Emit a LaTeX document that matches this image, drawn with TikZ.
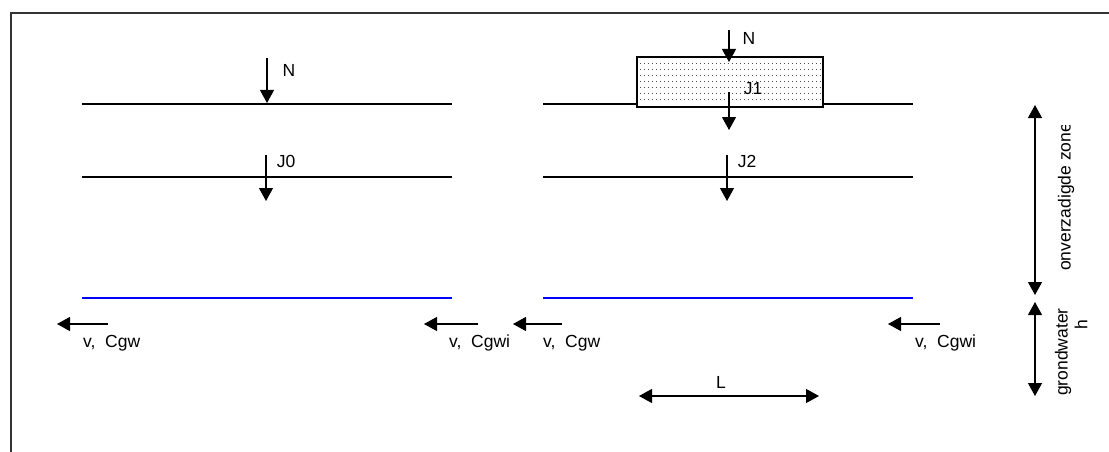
\documentclass[tikz,border=0pt]{standalone}
\usepackage{fontspec}
\setmainfont{Liberation Sans}
\usetikzlibrary{arrows.meta}
\tikzset{
  lbl/.style={inner sep=0pt, font=\fontsize{17.5}{20}\selectfont},
  ground/.style={line width=1.2pt},
  water/.style={line width=1.2pt, blue},
  flow/.style={line width=1.2pt, -{Triangle[length=13pt,width=14pt]}},
  dbl/.style={line width=1.2pt, {Triangle[length=13pt,width=14pt]}-{Triangle[length=13pt,width=14pt]}},
  frame/.style={line width=1.6pt, black!80}
}
\begin{document}
\begin{tikzpicture}[x=1pt,y=-1pt]
\useasboundingbox (0,0) rectangle (1109,452);
% frame
\coordinate (fl) at (11,452);
\coordinate (fc) at (11,13);
\coordinate (fr) at (1109,13);
\draw[frame] (fl) -- (fc) -- (fr);

% ---------- left panel ----------
\coordinate (a1) at (82,104); \coordinate (a2) at (452,104);
\coordinate (b1) at (82,177); \coordinate (b2) at (452,177);
\coordinate (c1) at (82,298); \coordinate (c2) at (452,298);
\draw[ground] (a1) -- (a2);
\draw[ground] (b1) -- (b2);
\draw[water] (c1) -- (c2);
\coordinate (nLs) at (267,58); \coordinate (nLe) at (267,103);
\draw[flow] (nLs) -- (nLe);
\node[lbl] (nL) at (289,70) {N};
\coordinate (j0s) at (266,155); \coordinate (j0e) at (266,201);
\draw[flow] (j0s) -- (j0e);
\node[lbl] (j0) at (286,161) {J0};

% ---------- right panel ----------
\coordinate (d1) at (543,104); \coordinate (d2) at (637,104);
\coordinate (d3) at (823,104); \coordinate (d4) at (913,104);
\draw[ground] (d1) -- (d2);
\draw[ground] (d3) -- (d4);
% dotted box
\foreach \yy in {63,69,...,101} {
  \draw[line width=0.7pt, black!70, dash pattern=on 1.2pt off 2.8pt] (640,\yy) -- (821,\yy);
}
\node[draw, line width=1.2pt, minimum width=186pt, minimum height=50pt, inner sep=0pt] (box) at (730,82) {};
\coordinate (nRs) at (729,30); \coordinate (nRe) at (729,62);
\draw[flow] (nRs) -- (nRe);
\node[lbl] (nR) at (749,38) {N};
\coordinate (j1s) at (729,92); \coordinate (j1e) at (729,130);
\draw[flow] (j1s) -- (j1e);
\node[lbl] (j1) at (753,89) {J1};
\coordinate (e1) at (543,177); \coordinate (e2) at (913,177);
\draw[ground] (e1) -- (e2);
\coordinate (j2s) at (727,155); \coordinate (j2e) at (727,201);
\draw[flow] (j2s) -- (j2e);
\node[lbl] (j2) at (747,161) {J2};
\coordinate (f1) at (543,298); \coordinate (f2) at (913,298);
\draw[water] (f1) -- (f2);

% ---------- groundwater flow arrows ----------
\coordinate (v1s) at (108,324); \coordinate (v1e) at (57,324);
\draw[flow] (v1s) -- (v1e);
\node[lbl, anchor=west] (v1) at (83,343) {v,\ \ Cgw};
\coordinate (v2s) at (478,324); \coordinate (v2e) at (424,324);
\draw[flow] (v2s) -- (v2e);
\node[lbl, anchor=west] (v2) at (449,343) {v,\ \ Cgwi};
\coordinate (v3s) at (562,324); \coordinate (v3e) at (513,324);
\draw[flow] (v3s) -- (v3e);
\node[lbl, anchor=west] (v3) at (543,343) {v,\ \ Cgw};
\coordinate (v4s) at (940,324); \coordinate (v4e) at (888,324);
\draw[flow] (v4s) -- (v4e);
\node[lbl, anchor=west] (v4) at (915,343) {v,\ \ Cgwi};

% ---------- length L ----------
\coordinate (Ls) at (639,396); \coordinate (Le) at (819,396);
\draw[dbl] (Ls) -- (Le);
\node[lbl] (L) at (721,382) {L};

% ---------- vertical zones ----------
\coordinate (z1) at (1035,105); \coordinate (z2) at (1035,295);
\draw[dbl] (z1) -- (z2);
\coordinate (z3) at (1035,302); \coordinate (z4) at (1035,396);
\draw[dbl] (z3) -- (z4);
\begin{scope}
\clip (990,125) rectangle (1109,452);
\node[lbl, rotate=90, anchor=west] (uz) at (1066,271) {onverzadigde zone};
\end{scope}
\node[lbl, rotate=90, anchor=west] (gw) at (1063,396) {grondwater};
\node[lbl, rotate=90] (h) at (1081,325) {h};
\end{tikzpicture}
\end{document}
